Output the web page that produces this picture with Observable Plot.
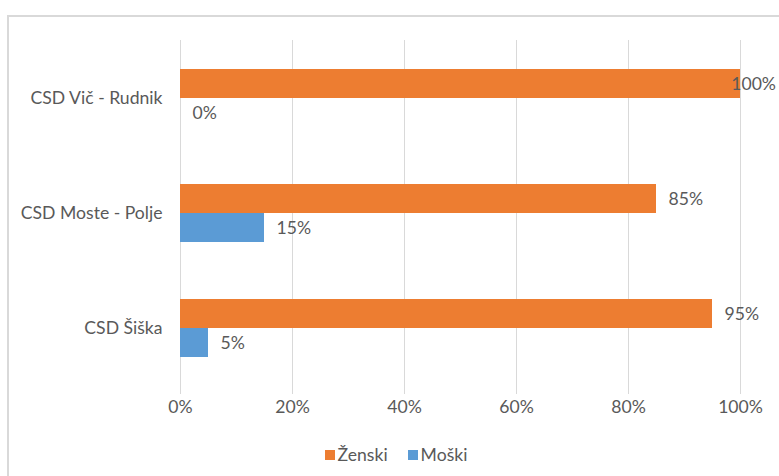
<!DOCTYPE html>
<html>
<head>
<meta charset="utf-8">
<script src="https://cdn.jsdelivr.net/npm/d3@7"></script>
<script src="https://cdn.jsdelivr.net/npm/@observablehq/plot@0.6"></script>
<style>
  html, body { margin: 0; padding: 0; background: #fff; overflow: hidden; width: 779px; height: 476px; }
  #frame { position: absolute; left: 7px; top: 15px; width: 900px; height: 600px;
           border-left: 2px solid #d9d9d9; border-top: 2px solid #d9d9d9; }
  #chart { position: absolute; left: 0; top: 0; }
  #legend { position: absolute; top: 438px; left: 0; width: 812px; display: flex; justify-content: center; }
  .lg-swatch { margin-right: 20px !important; }
  .lg-swatch > svg { margin-right: 3px !important; }
</style>
</head>
<body>
<div id="frame"></div>
<div id="chart"></div>
<div id="legend"></div>
<script>
const categories = ["CSD Vič - Rudnik", "CSD Moste - Polje", "CSD Šiška"];
const series = ["Ženski", "Moški"];
const zenski = [100, 85, 95];
const moski = [0, 15, 5];
const xTicks = [0, 20, 40, 60, 80, 100];
const colors = ["#ED7D31", "#5B9BD5"];

const data = categories.flatMap((c, i) => [
  {category: c, series: series[0], value: zenski[i]},
  {category: c, series: series[1], value: moski[i]}
]);

const font = "Lato, 'Open Sans', sans-serif";
const fs = "17.6px";
const pct = d => d + "%";

const chart = Plot.plot({
  width: 779,
  height: 430,
  marginLeft: 180,
  marginRight: 39,
  marginTop: 39,
  marginBottom: 45,
  style: {fontFamily: font, fontSize: fs, color: "#595959", background: "transparent"},
  x: {domain: [0, 100], ticks: xTicks, tickFormat: pct},
  fy: {domain: categories, padding: 0, label: null},
  y: {domain: series, paddingInner: 0, paddingOuter: 0.9167, axis: null},
  color: {domain: series, range: colors},
  marks: [
    Plot.gridX(xTicks, {stroke: "#d9d9d9", strokeOpacity: 1, strokeWidth: 1}),
    Plot.barX(data, {fy: "category", y: "series", x: "value", fill: "series"}),
    Plot.text(data, {fy: "category", y: "series", x: d => Math.min(d.value, 96.2),
      text: d => pct(d.value), textAnchor: "start", dx: 12, fill: "#595959"}),
    Plot.axisX({ticks: xTicks, tickFormat: pct, tickSize: 9, tickPadding: 6,
      stroke: "#d9d9d9", fill: "#595959", label: null}),
    Plot.axisFy({anchor: "left", tickSize: 0, tickPadding: 18, label: null, fill: "#595959"})
  ]
});
document.getElementById("chart").appendChild(chart);

const leg = Plot.legend({
  color: {domain: series, range: colors},
  legend: "swatches",
  swatchSize: 10,
  className: "lg",
  style: {fontFamily: font, fontSize: fs, color: "#595959"}
});
document.getElementById("legend").appendChild(leg);
</script>
</body>
</html>
